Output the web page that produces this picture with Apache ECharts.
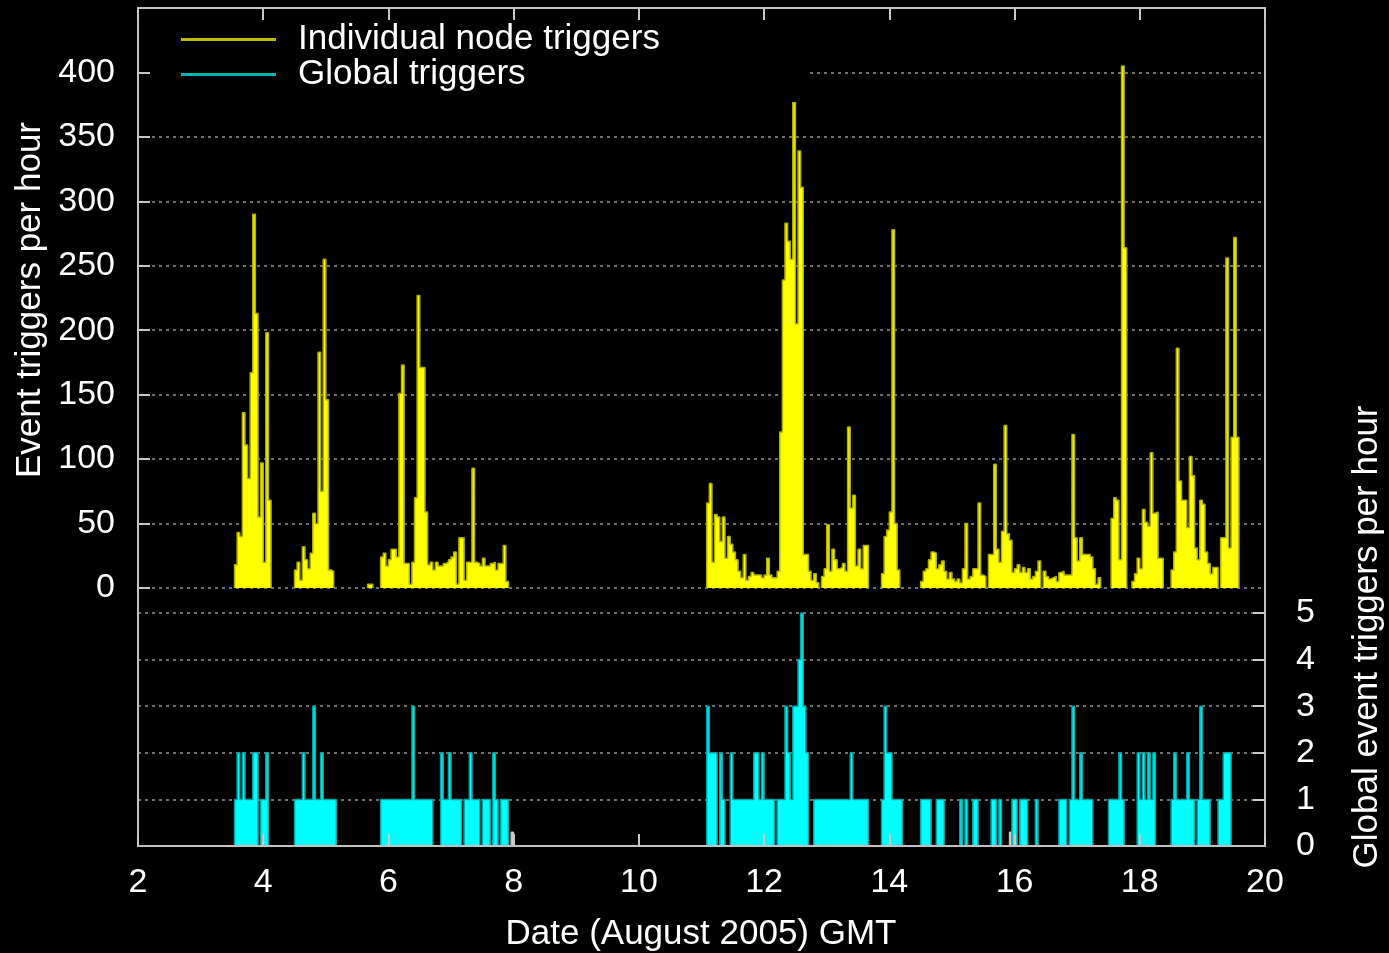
<!DOCTYPE html>
<html>
<head>
<meta charset="utf-8">
<script src="https://cdn.jsdelivr.net/npm/echarts@6/dist/echarts.min.js"></script>
<style>
html,body{margin:0;padding:0;background:#000;}
#c{width:1389px;height:953px;}
</style>
</head>
<body>
<div id="c"></div>
<script>
// hours counted from 2 August 2005 00:00 GMT
const DAY0 = 2;
const xTickLabels = [2, 4, 6, 8, 10, 12, 14, 16, 18, 20];
const leftTickLabels = [0, 50, 100, 150, 200, 250, 300, 350, 400];
const rightTickLabels = [0, 1, 2, 3, 4, 5];

// Individual node triggers per hour: start hour of each run + hourly values
const nodeStarts = [37, 60, 88, 93, 218, 262, 285, 300, 373, 381, 396, 415];
const node1 = [18, 43, 40, 136, 111, 85, 167, 290, 213, 55, 97, 20, 198, 68];
const node2 = [14, 20, 6, 32, 22, 15, 27, 58, 50, 183, 75, 255, 146, 14, 13];
const node3 = [3, 3];
const node4 = [24, 27, 17, 22, 30, 30, 24, 151, 173, 19, 19, 3, 20, 70, 227, 171, 171, 59, 18, 20,
               14, 20, 17, 17, 19, 20, 22, 24, 28, 3, 39, 39, 6, 20, 20, 93, 20, 19, 17, 23,
               17, 17, 19, 20, 14, 19, 19, 33, 5];
const node5 = [66, 81, 20, 57, 55, 36, 55, 23, 40, 34, 28, 22, 13, 8, 26, 6, 9, 12, 10, 10,
               10, 8, 10, 23, 10, 8, 8, 13, 121, 239, 283, 269, 255, 377, 205, 339, 311, 26, 26, 13,
               6, 11, 4];
const node6 = [9, 15, 49, 13, 30, 22, 15, 16, 19, 13, 125, 62, 72, 17, 30, 15, 33, 33];
const node7 = [11, 40, 45, 59, 278, 50, 14];
const node8 = [5, 13, 15, 22, 28, 27, 15, 18, 21, 13, 7, 12, 7, 5, 7, 4, 15, 50, 7, 9,
               15, 15, 66, 10, 9, 0, 26, 26, 96, 30, 20, 44, 126, 42, 37, 12, 15, 18, 12, 16,
               12, 15, 7, 9, 13, 21, 0, 13, 9, 7, 8, 9, 5, 12, 13, 10, 10, 10, 119, 39,
               21, 39, 26, 26, 26, 24, 15, 3, 8];
const node9 = [54, 70, 68, 22, 405, 264];
const node10 = [5, 11, 23, 15, 61, 51, 48, 105, 58, 59, 23, 23];
const node11 = [14, 28, 186, 83, 68, 68, 47, 102, 87, 31, 22, 68, 65, 28, 19, 11, 16, 16];
const node12 = [39, 39, 256, 31, 117, 272, 117];

// Global event triggers per hour
const globalStarts = [37, 60, 93, 218, 300, 330];
const global1 = [1, 2, 1, 2, 1, 1, 1, 2, 2, 0, 1, 1, 2];
const global2 = [1, 1, 1, 2, 1, 1, 1, 3, 1, 1, 2, 1, 1, 1, 1, 1];
const global3 = [1, 1, 1, 1, 1, 1, 1, 1, 1, 1, 1, 1, 3, 1, 1, 1, 1, 1, 1, 1,
                 0, 0, 0, 2, 1, 1, 2, 1, 1, 1, 1, 0, 1, 1, 2, 1, 1, 1, 0, 1,
                 1, 1, 0, 2, 1, 0, 1, 1, 1];
const global4 = [3, 2, 2, 2, 0, 2, 1, 0, 0, 2, 1, 1, 1, 1, 1, 1, 1, 1, 2, 2,
                 1, 2, 1, 1, 1, 1, 0, 1, 1, 1, 3, 2, 1, 3, 3, 4, 5, 3, 2, 0,
                 0, 1, 1, 1, 1, 1, 1, 1, 1, 1, 1, 1, 1, 1, 1, 2, 1, 1, 1, 1,
                 1, 1, 0, 0, 0, 0, 0, 1, 3, 2, 2, 1, 1, 1, 1];
const global5 = [1, 1, 1, 1, 0, 0, 1, 1, 1, 0, 0, 0, 0, 0, 0, 1, 0, 1, 0, 0,
                 1, 1, 0, 0, 0, 0, 0, 1, 1];
const global6 = [1, 0, 0, 0, 0, 1, 1, 0, 1, 1, 1, 0, 0, 0, 1, 0, 0, 0, 0, 0,
                 0, 0, 0, 1, 1, 1, 0, 1, 3, 1, 1, 2, 1, 1, 1, 1, 0, 0, 0, 0,
                 0, 0, 1, 1, 1, 1, 2, 1, 0, 0, 0, 0, 0, 2, 1, 2, 1, 2, 1, 2,
                 0, 0, 0, 0, 0, 0, 1, 2, 1, 1, 1, 1, 2, 1, 1, 0, 1, 3, 1, 1,
                 1, 0, 0, 0, 1, 1, 2, 2, 2];

// small grey marks at the bottom of the lower panel
const otherStarts = [143, 334];
const other1 = [0.3];
const other2 = [0.3];

const nodeSegs = [node1, node2, node3, node4, node5, node6, node7, node8, node9, node10, node11, node12];
const globalSegs = [global1, global2, global3, global4, global5, global6];
const otherSegs = [other1, other2];

function toDay(h) { return DAY0 + h / 24; }

// turn hourly runs into step outline points (each non-zero run drawn as boxes)
function buildSteps(starts, segs) {
  const pts = [];
  segs.forEach(function (vals, i) {
    const s = starts[i];
    let inRun = false;
    for (let k = 0; k <= vals.length; k++) {
      const v = k < vals.length ? vals[k] : 0;
      const h = s + k;
      if (v > 0) {
        if (!inRun) { pts.push([toDay(h), 0]); inRun = true; }
        pts.push([toDay(h), v]);
      } else if (inRun) {
        pts.push([toDay(h), 0]);
        pts.push([toDay(h), null]);
        inRun = false;
      }
    }
  });
  return pts;
}

const FONT = 'Liberation Sans, Arial, Helvetica, sans-serif';
const FS = 34;
const FS2 = 35;
const L = 138, R = 1389 - 1265, T = 8, B = 953 - 846;
const gridLine = { show: true, lineStyle: { color: '#707070', type: [3, 4], width: 2 } };
const tickStyle = { show: true, inside: true, length: 12, lineStyle: { color: '#c8c8c8', width: 2 } };

const chart = echarts.init(document.getElementById('c'), null, { renderer: 'canvas' });
chart.setOption({
  backgroundColor: '#000',
  animation: false,
  textStyle: { fontFamily: FONT },
  grid: [
    { left: L, right: R, top: T, bottom: B, show: true, borderColor: '#c0c0c0', borderWidth: 2, backgroundColor: 'transparent', z: 3 },
    { left: L, right: R, top: T, bottom: 953 - 588 },
    { left: L, right: R, top: 613, bottom: B }
  ],
  xAxis: [
    { gridIndex: 0, type: 'value', position: 'bottom', min: xTickLabels[0], max: xTickLabels[xTickLabels.length - 1], interval: 2,
      axisLine: { show: false }, axisTick: tickStyle, splitLine: { show: false },
      axisLabel: { color: '#fff', fontSize: FS, fontFamily: FONT, margin: 20 }, z: 10 },
    { gridIndex: 0, type: 'value', position: 'top', min: xTickLabels[0], max: xTickLabels[xTickLabels.length - 1], interval: 2,
      axisLine: { show: false }, axisTick: tickStyle, splitLine: { show: false }, axisLabel: { show: false }, z: 10 },
    { gridIndex: 1, type: 'value', min: 2, max: 20, show: false },
    { gridIndex: 2, type: 'value', min: 2, max: 20, show: false }
  ],
  yAxis: [
    { gridIndex: 0, type: 'value', min: 0, max: 1, show: false },
    { gridIndex: 1, type: 'value', position: 'left', min: 0, max: 450, interval: 50,
      axisLine: { show: false }, axisTick: tickStyle, splitLine: gridLine,
      axisLabel: { color: '#fff', fontSize: FS, fontFamily: FONT, margin: 23,
        formatter: function (v) { return leftTickLabels.indexOf(v) >= 0 ? String(v) : ''; } } },
    { gridIndex: 2, type: 'value', position: 'right', min: 0, max: 5, interval: 1,
      axisLine: { show: false }, axisTick: tickStyle, splitLine: gridLine,
      axisLabel: { color: '#fff', fontSize: FS, fontFamily: FONT, margin: 31,
        formatter: function (v) { return rightTickLabels.indexOf(v) >= 0 ? String(v) : ''; } } }
  ],
  legend: {
    orient: 'vertical', left: 152, top: 12, padding: [10, 150, 10, 29],
    backgroundColor: '#000', itemWidth: 95, itemHeight: 3, itemGap: 0, selectedMode: false, z: 6,
    textStyle: { color: '#fff', fontSize: FS2, fontFamily: FONT, lineHeight: 35, padding: [0, 0, 0, 17] },
    data: [{ name: 'Individual node triggers', icon: 'rect' }, { name: 'Global triggers', icon: 'rect' }]
  },
  graphic: [
    { type: 'text', z: 100, x: 30, y: 300, rotation: Math.PI / 2,
      style: { text: 'Event triggers per hour', font: FS2 + 'px ' + FONT, fill: '#fff', textAlign: 'center', textVerticalAlign: 'middle' } },
    { type: 'text', z: 100, x: 1367, y: 637, rotation: Math.PI / 2,
      style: { text: 'Global event triggers per hour', font: FS2 + 'px ' + FONT, fill: '#fff', textAlign: 'center', textVerticalAlign: 'middle' } },
    { type: 'text', z: 100, x: 701, y: 934,
      style: { text: 'Date (August 2005) GMT', font: FS2 + 'px ' + FONT, fill: '#fff', textAlign: 'center', textVerticalAlign: 'middle' } }
  ],
  series: [
    { name: 'Individual node triggers', type: 'line', step: 'end', xAxisIndex: 2, yAxisIndex: 1,
      data: buildSteps(nodeStarts, nodeSegs), symbol: 'none', showSymbol: false, connectNulls: false,
      color: '#bdbd00', lineStyle: { color: '#b0b000', width: 1.5 }, areaStyle: { color: '#ffff00', opacity: 1 }, z: 2 },
    { name: 'other', type: 'line', step: 'end', xAxisIndex: 3, yAxisIndex: 2,
      data: buildSteps(otherStarts, otherSegs), symbol: 'none', showSymbol: false,
      color: '#d0d0d0', lineStyle: { color: '#d0d0d0', width: 1 }, areaStyle: { color: '#d0d0d0', opacity: 1 }, z: 1 },
    { name: 'Global triggers', type: 'line', step: 'end', xAxisIndex: 3, yAxisIndex: 2,
      data: buildSteps(globalStarts, globalSegs), symbol: 'none', showSymbol: false, connectNulls: false,
      color: '#00b4b4', lineStyle: { color: '#00a4a4', width: 1.5 }, areaStyle: { color: '#00ffff', opacity: 1 }, z: 2 }
  ]
});
</script>
</body>
</html>
